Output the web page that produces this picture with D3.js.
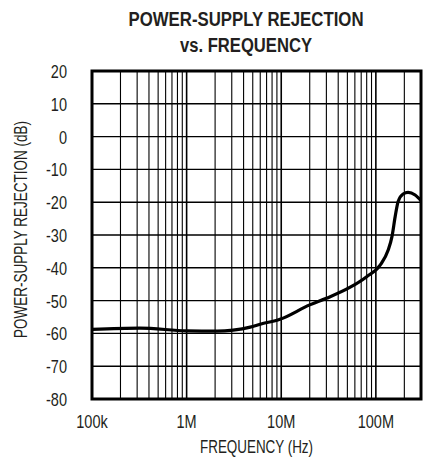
<!DOCTYPE html>
<html><head><meta charset="utf-8">
<script src="https://cdn.jsdelivr.net/npm/d3@7"></script>
<style>
body{margin:0;background:#fff;}
svg{display:block;}
text{font-family:"Liberation Sans",Arial,sans-serif;fill:#231f20;}
</style></head>
<body><svg id="c" width="426" height="459"></svg>
<script>
const titleLines = ["POWER-SUPPLY REJECTION", "vs. FREQUENCY"];
const xLabel = "FREQUENCY (Hz)";
const yLabel = "POWER-SUPPLY REJECTION (dB)";
const xTickValues = [1e5, 1e6, 1e7, 1e8];
const xTickLabels = ["100k", "1M", "10M", "100M"];
const yTickValues = [20, 10, 0, -10, -20, -30, -40, -50, -60, -70, -80];
const freq = [1e5, 3.2e5, 1e6, 2.1e6, 3.1e6, 4.7e6, 6e6, 9.7e6, 2e7, 3e7, 5.3e7, 8e7, 1.11e8, 1.35e8, 1.48e8, 1.6e8, 1.72e8, 1.94e8, 2.19e8, 2.6e8, 3e8];
const psr = [-58.8, -58.4, -59.2, -59.3, -59.0, -58.1, -57.2, -55.7, -51.3, -49.3, -46.0, -42.7, -39.2, -34.6, -30.5, -24.4, -19.8, -17.5, -17.0, -17.8, -19.5];

const svg = d3.select("#c");
const L = 92, R = 421, T = 71, B = 399;
const SX = 0.83;
const x = d3.scaleLog().domain([1e5, 3e8]).range([L, R]);
const y = d3.scaleLinear().domain([-80, 20]).range([B, T]);

const vgrid = [];
for (let d = 1e5; d < 3e8; d *= 10) {
  for (let m = 1; m <= 9; m++) { const v = d * m; if (v > 1e5 && v < 3e8) vgrid.push(v); }
}
svg.append("g").selectAll("line").data(vgrid).join("line")
  .attr("x1", d => x(d)).attr("x2", d => x(d)).attr("y1", T).attr("y2", B)
  .attr("stroke", "#000").attr("stroke-width", d => xTickValues.includes(d) ? 1.6 : 1.1);

svg.append("g").selectAll("line").data(yTickValues.slice(1, -1)).join("line")
  .attr("x1", L).attr("x2", R).attr("y1", d => y(d)).attr("y2", d => y(d))
  .attr("stroke", "#000").attr("stroke-width", 1.4);

const line = d3.line().x((d, i) => x(freq[i])).y(d => y(d)).curve(d3.curveMonotoneX);
svg.append("path").datum(psr).attr("d", line)
  .attr("fill", "none").attr("stroke", "#000").attr("stroke-width", 3.2).attr("stroke-linejoin", "round");

svg.append("rect").attr("x", L).attr("y", T).attr("width", R - L).attr("height", B - T)
  .attr("fill", "none").attr("stroke", "#000").attr("stroke-width", 3);

svg.append("g").selectAll("text").data(yTickValues).join("text")
  .attr("transform", d => `translate(67,${y(d)}) scale(${SX},1)`)
  .attr("dy", "0.40em").attr("text-anchor", "end")
  .attr("font-size", 17.5).text(d => d);

svg.append("g").selectAll("text").data(xTickValues).join("text")
  .attr("transform", d => `translate(${x(d)},428) scale(${SX},1)`).attr("text-anchor", "middle")
  .attr("font-size", 17.5).text((d, i) => xTickLabels[i]);

svg.append("text").attr("x", 256.5).attr("y", 453).attr("text-anchor", "middle")
  .attr("font-size", 17.5).attr("textLength", 113).attr("lengthAdjust", "spacingAndGlyphs").text(xLabel);

svg.append("text").attr("transform", "translate(27,229.5) rotate(-90)").attr("text-anchor", "middle")
  .attr("font-size", 17.5).attr("textLength", 217).attr("lengthAdjust", "spacingAndGlyphs").text(yLabel);

const tLens = [235, 132];
svg.append("g").selectAll("text").data(titleLines).join("text")
  .attr("x", 246).attr("y", (d, i) => 25.5 + i * 26).attr("text-anchor", "middle")
  .attr("textLength", (d, i) => tLens[i]).attr("lengthAdjust", "spacingAndGlyphs")
  .attr("font-size", 19.5).attr("font-weight", "bold").text(d => d);
</script></body></html>
